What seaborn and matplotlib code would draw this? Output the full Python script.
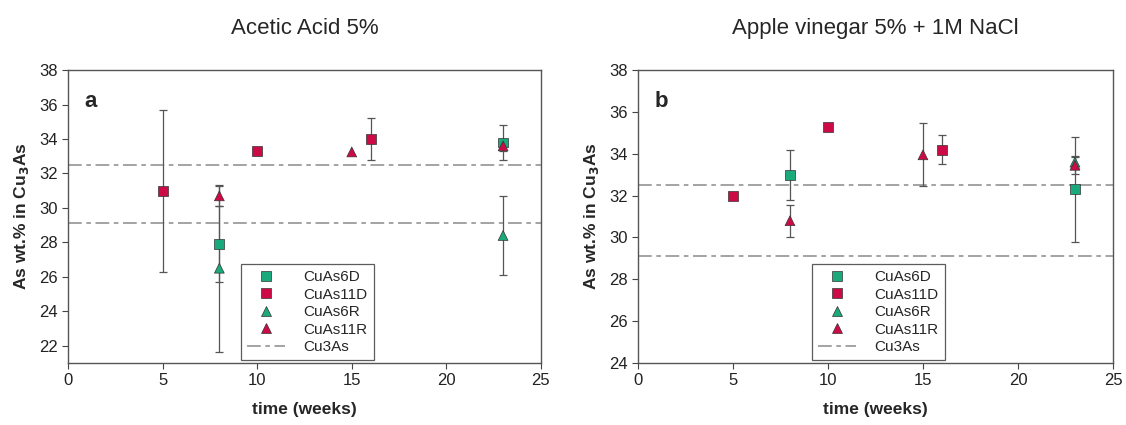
import matplotlib
matplotlib.use("Agg")
import matplotlib.pyplot as plt
import pandas as pd
import seaborn as sns

# ── data ────────────────────────────────────────────────────────
series = ["CuAs6D", "CuAs11D", "CuAs6R", "CuAs11R"]

# panel a: Acetic Acid 5%
a_series = ["CuAs11D", "CuAs11R", "CuAs6D", "CuAs6R", "CuAs11D", "CuAs11R", "CuAs11D", "CuAs6D", "CuAs11R", "CuAs6R"]
a_time = [5, 8, 8, 8, 10, 15, 16, 23, 23, 23]
a_value = [31.0, 30.7, 27.9, 26.5, 33.3, 33.25, 34.0, 33.8, 33.6, 28.4]
a_err = [4.7, 0.6, 2.2, 4.85, 0.0, 0.0, 1.2, 1.0, 0.3, 2.3]

# panel b: Apple vinegar 5% + 1M NaCl
b_series = ["CuAs11D", "CuAs6D", "CuAs11R", "CuAs11D", "CuAs11R", "CuAs11D", "CuAs6R", "CuAs6D", "CuAs11R"]
b_time = [5, 8, 8, 10, 15, 16, 23, 23, 23]
b_value = [32.0, 33.0, 30.8, 35.3, 33.95, 34.2, 33.6, 32.3, 33.45]
b_err = [0.0, 1.2, 0.77, 0.0, 1.5, 0.7, 0.3, 2.5, 0.4]

cu3as_levels = [32.5, 29.1]

titles = ["Acetic Acid 5%", "Apple vinegar 5% + 1M NaCl"]
panel_tags = ["a", "b"]
ylims = [(21, 38), (24, 38)]

# ── style ──────────────────────────────────────────────────────
sns.set_theme(style="white")
plt.rcParams["font.family"] = ["Liberation Sans", "DejaVu Sans"]

palette = {"CuAs6D": "#19a97b", "CuAs11D": "#cc0a45",
           "CuAs6R": "#19a97b", "CuAs11R": "#cc0a45"}
markers = {"CuAs6D": "s", "CuAs11D": "s", "CuAs6R": "^", "CuAs11R": "^"}
dash = (0, (9, 3, 3, 3))

fig = plt.figure(figsize=(11.26, 4.25), dpi=100)
axes = [fig.add_axes([0.0604, 0.146, 0.420, 0.689]),
        fig.add_axes([0.5666, 0.146, 0.4218, 0.689])]

panels = [
    pd.DataFrame({"series": a_series, "time": a_time, "value": a_value, "err": a_err}),
    pd.DataFrame({"series": b_series, "time": b_time, "value": b_value, "err": b_err}),
]

for ax, df, title, tag, ylim in zip(axes, panels, titles, panel_tags, ylims):
    for lvl in cu3as_levels:
        ax.axhline(lvl, color="#8a8a8a", lw=1.1, linestyle=dash, zorder=1)

    eb = df[df["err"] > 0]
    ax.errorbar(eb["time"], eb["value"], yerr=eb["err"], fmt="none",
                ecolor="#555555", elinewidth=0.9, capsize=3, capthick=0.9, zorder=2)

    sns.scatterplot(data=df, x="time", y="value", hue="series", style="series",
                    hue_order=series, style_order=series, palette=palette,
                    markers=markers, s=50, edgecolor="#333333", linewidth=0.5,
                    ax=ax, zorder=3, legend=False)

    ax.set_xlim(0, 25)
    ax.set_ylim(*ylim)
    ax.set_xticks(range(0, 26, 5))
    ax.set_yticks(range(int(ylim[0]) + (int(ylim[0]) % 2), 39, 2))
    ax.tick_params(axis="both", direction="out", length=4, width=0.8,
                   colors="#444444", labelcolor="#222222", labelsize=12,
                   bottom=True, left=True)
    for sp in ax.spines.values():
        sp.set_color("#555555")
        sp.set_linewidth(1.0)

    ax.set_title(title, fontsize=16, pad=26)
    ax.set_xlabel("time (weeks)", fontsize=12.5, fontweight="bold", labelpad=10)
    ax.set_ylabel("As wt.% in Cu$_\\mathbf{3}$As", fontsize=12.5, fontweight="bold",
                  labelpad=6)
    ax.text(0.035, 0.93, tag, transform=ax.transAxes, fontsize=16,
            fontweight="bold", va="top", ha="left")

    # legend proxies
    handles = []
    for s in series:
        h = plt.Line2D([], [], linestyle="none", marker=markers[s], markersize=6.5,
                       markerfacecolor=palette[s], markeredgecolor="#333333",
                       markeredgewidth=0.5, label=s)
        handles.append(h)
    handles.append(plt.Line2D([], [], color="#8a8a8a", lw=1.1, linestyle=dash, label="Cu3As"))
    leg = ax.legend(handles=handles, loc="lower left", bbox_to_anchor=(0.366, 0.01),
                    frameon=True, fancybox=False, fontsize=11, handlelength=2.5,
                    borderpad=0.4, labelspacing=0.22, handletextpad=1.2,
                    borderaxespad=0)
    leg.get_frame().set_edgecolor("#333333")
    leg.get_frame().set_linewidth(0.9)

fig.savefig("out.png", dpi=100)
